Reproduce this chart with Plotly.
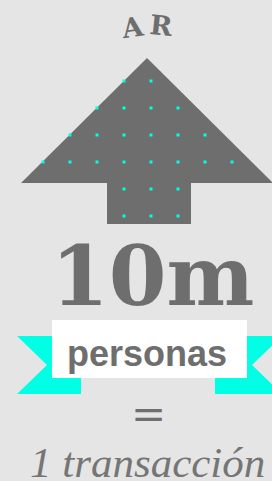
import plotly.graph_objects as go

# ---- data ----
country_letters = ["A", "R"]
headline_value = "10m"
unit_label = "personas"
equals_label = "="
result_label = "1 transacción"

# dot grid (columns / rows in pixel space of the pictogram)
dot_columns = [43, 70, 97, 124, 151, 178, 205, 232]
dot_rows = [81, 108, 135, 162, 189, 216]
dot_row_members = [
    [3, 4],
    [2, 3, 4, 5],
    [1, 2, 3, 4, 5, 6],
    [0, 1, 2, 3, 4, 5, 6, 7],
    [3, 4, 5],
    [3, 4, 5],
]

BG = "#e5e5e5"
GREY = "#6e6e6e"
CYAN = "#00ffe4"

dot_x, dot_y = [], []
for ry, members in zip(dot_rows, dot_row_members):
    for c in members:
        dot_x.append(dot_columns[c])
        dot_y.append(ry)

fig = go.Figure()
fig.add_trace(go.Scatter(
    x=dot_x, y=dot_y, mode="markers",
    marker=dict(symbol="square", size=3, color=CYAN, line=dict(width=0)),
    hoverinfo="skip", showlegend=False,
))

shapes = [
    # arrow head
    dict(type="path", path="M 147 58 L 273 183 L 21 183 Z",
         fillcolor=GREY, line=dict(width=0), layer="below"),
    # arrow stem
    dict(type="rect", x0=107, x1=191, y0=182, y1=224,
         fillcolor=GREY, line=dict(width=0), layer="below"),
    # ribbons
    dict(type="path", path="M 17 336 L 81 336 L 81 394 L 17 394 L 47 365 Z",
         fillcolor=CYAN, line=dict(width=0), layer="below"),
    dict(type="path", path="M 215 336 L 282 336 L 252 365 L 282 394 L 215 394 Z",
         fillcolor=CYAN, line=dict(width=0), layer="below"),
    # label box
    dict(type="rect", x0=52, x1=247, y0=320, y1=378,
         fillcolor="white", line=dict(width=0), layer="below"),
]

annotations = [
    dict(x=132, y=27, text=country_letters[0], textangle=-8,
         font=dict(family="DejaVu Serif", size=27, color=GREY, weight="bold")),
    dict(x=161, y=25, text=country_letters[1], textangle=6,
         font=dict(family="DejaVu Serif", size=27, color=GREY, weight="bold")),
    dict(x=152, y=276, text=headline_value,
         font=dict(family="DejaVu Serif", size=83, color=GREY, weight="bold")),
    dict(x=147, y=353, text=unit_label,
         font=dict(family="Liberation Sans", size=36, color=GREY, weight="bold")),
    dict(x=148, y=414, text=equals_label,
         font=dict(family="DejaVu Serif", size=42, color=GREY)),
    dict(x=147, y=462, text=result_label,
         font=dict(family="Liberation Serif", size=43, color="#757575", style="italic")),
]
for a in annotations:
    a.update(xref="x", yref="y", showarrow=False, xanchor="center", yanchor="middle")

fig.update_layout(
    width=272, height=481,
    margin=dict(l=0, r=0, t=0, b=0),
    paper_bgcolor=BG, plot_bgcolor=BG,
    xaxis=dict(range=[0, 272], visible=False, fixedrange=True),
    yaxis=dict(range=[481, 0], visible=False, fixedrange=True),
    shapes=shapes, annotations=annotations,
    showlegend=False,
)
fig.write_html(
    "out.html",
    config=dict(displayModeBar=False),
    post_script="document.body.style.margin='0';document.body.style.background='#e5e5e5';document.body.style.overflow='hidden';",
)
